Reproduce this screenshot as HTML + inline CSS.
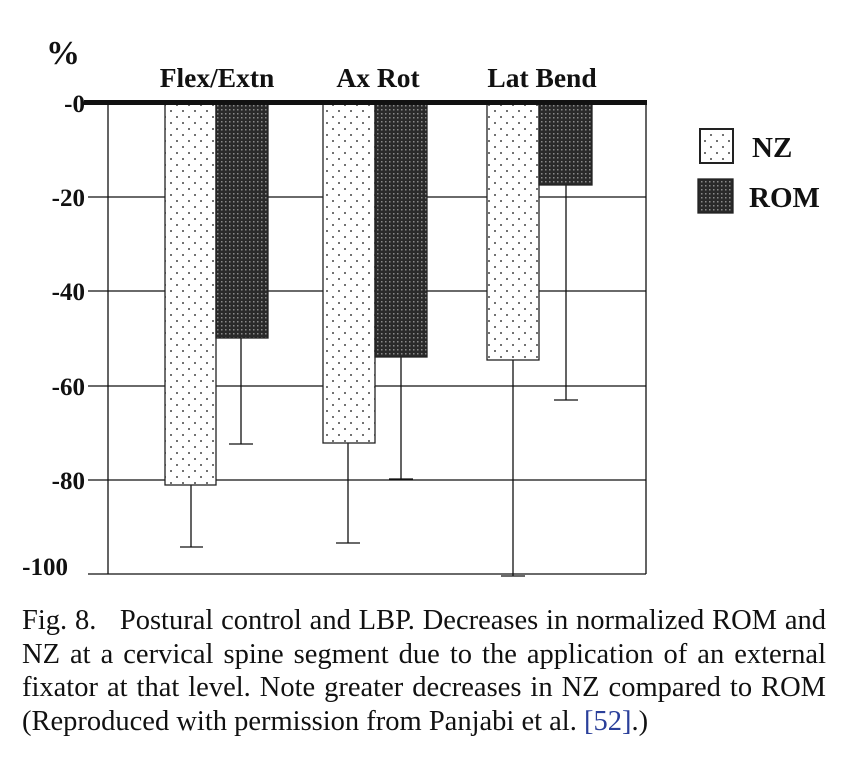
<!DOCTYPE html>
<html><head><meta charset="utf-8"><style>
body{margin:0;background:#fff;width:850px;height:764px;overflow:hidden;position:relative}
.cap{position:absolute;left:22px;top:604px;width:804px;font-family:"Liberation Serif",serif;font-size:28.5px;line-height:33.5px;text-align:justify;text-align-last:justify;color:#111}
.cap span.l{display:block;white-space:nowrap}
.cap .last{text-align-last:left}
</style></head><body>
<svg width="850" height="600" style="position:absolute;left:0;top:0" font-family="Liberation Serif, serif">
<defs>
<pattern id="dots" width="12" height="12" patternUnits="userSpaceOnUse">
<rect width="12" height="12" fill="#fff"/>
<circle cx="3" cy="3" r="1" fill="#444"/><circle cx="9" cy="9" r="1" fill="#444"/>
</pattern>
<pattern id="hatch" width="4" height="4" patternUnits="userSpaceOnUse">
<rect width="4" height="4" fill="#2a2a2a"/>
<rect x="1" y="1" width="1.5" height="1.5" fill="#8a8a8a"/>
</pattern>
</defs>
<g stroke="#111" stroke-width="1.3">
<line x1="88" y1="197" x2="646" y2="197"/>
<line x1="88" y1="291" x2="646" y2="291"/>
<line x1="88" y1="386" x2="646" y2="386"/>
<line x1="88" y1="480" x2="646" y2="480"/>
<line x1="88" y1="574" x2="646" y2="574"/>
<line x1="108" y1="103" x2="108" y2="574"/>
<line x1="646" y1="103" x2="646" y2="574"/>
<line x1="191" y1="485" x2="191" y2="547"/><line x1="180" y1="547" x2="203" y2="547"/>
<line x1="241" y1="338" x2="241" y2="444"/><line x1="229" y1="444" x2="253" y2="444"/>
<line x1="348" y1="443" x2="348" y2="543"/><line x1="336" y1="543" x2="360" y2="543"/>
<line x1="401" y1="357" x2="401" y2="479"/><line x1="389" y1="479" x2="413" y2="479"/>
<line x1="513" y1="360" x2="513" y2="576"/><line x1="501" y1="576" x2="525" y2="576"/>
<line x1="566" y1="185" x2="566" y2="400"/><line x1="554" y1="400" x2="578" y2="400"/>
</g>
<g stroke="#222" stroke-width="1.3">
<rect x="165" y="103" width="51" height="382" fill="url(#dots)"/>
<rect x="216" y="103" width="52" height="235" fill="url(#hatch)"/>
<rect x="323" y="103" width="52" height="340" fill="url(#dots)"/>
<rect x="375" y="103" width="52" height="254" fill="url(#hatch)"/>
<rect x="487" y="103" width="52" height="257" fill="url(#dots)"/>
<rect x="539" y="103" width="53" height="82" fill="url(#hatch)"/>
<rect x="700" y="129" width="33" height="34" fill="url(#dots)" stroke-width="2"/>
<rect x="698" y="179" width="35" height="34" fill="url(#hatch)"/>
</g>
<rect x="84" y="100" width="563" height="5" fill="#111"/>
<g font-weight="bold" fill="#111">
<text x="46" y="64" font-size="34">%</text>
<g font-size="25" text-anchor="end">
<text x="85" y="112">-0</text>
<text x="85" y="206">-20</text>
<text x="85" y="300">-40</text>
<text x="85" y="395">-60</text>
<text x="85" y="489">-80</text>
<text x="68" y="575">-100</text>
</g>
<g font-size="27.5" text-anchor="middle">
<text x="217" y="87">Flex/Extn</text>
<text x="378" y="87">Ax Rot</text>
<text x="542" y="87">Lat Bend</text>
</g>
<text x="752" y="157" font-size="29">NZ</text>
<text x="749" y="207" font-size="29">ROM</text>
</g>
</svg>
<div class="cap">
<span class="l">Fig. 8.&nbsp;&nbsp;&nbsp;Postural control and LBP. Decreases in normalized ROM and</span>
<span class="l">NZ at a cervical spine segment due to the application of an external</span>
<span class="l">fixator at that level. Note greater decreases in NZ compared to ROM</span>
<span class="l last">(Reproduced with permission from Panjabi et al. <span style="color:#2a3f9a">[52]</span>.)</span>
</div>
</body></html>
